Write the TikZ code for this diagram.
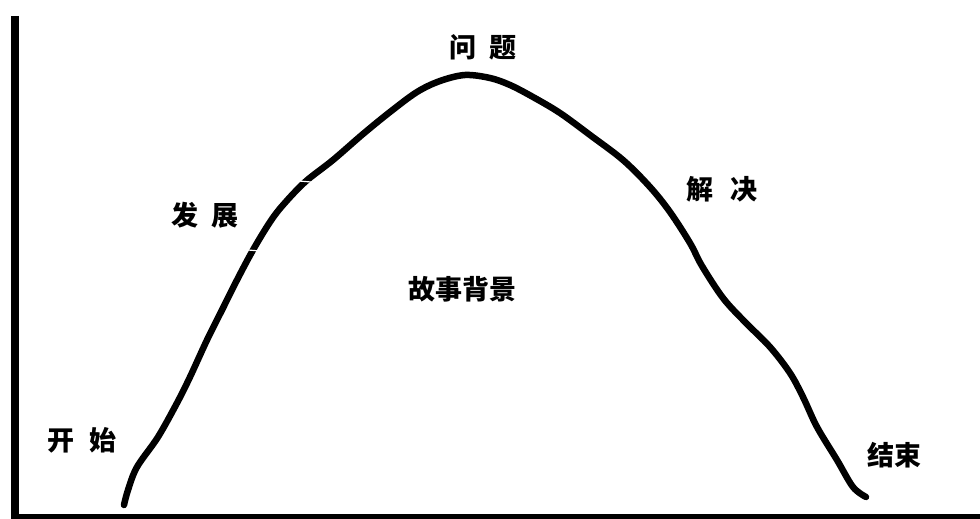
\documentclass[tikz,border=0pt]{standalone}
\usepackage{fontspec}
\newfontfamily\cjk{Noto Sans CJK SC}
\begin{document}
\begin{tikzpicture}[x=1pt,y=-1pt,
  lbl/.style={font=\cjk\bfseries\fontsize{27}{30}\selectfont, inner sep=0pt, anchor=center},
  axisline/.style={line width=8pt},
  plotcurve/.style={line width=6.5pt, line cap=round, line join=round}]
\useasboundingbox[fill=white] (0,0) rectangle (980,519);
\coordinate (vtop) at (15,16);
\coordinate (vbot) at (15,519);
\coordinate (hleft) at (11,516);
\coordinate (hright) at (980,516);
\draw[axisline] (vtop) -- (vbot);
\draw[line width=5pt] (hleft) -- (hright);
\draw[plotcurve] plot[smooth, tension=0.55] coordinates {
(124,505) (128,490) (137,467) (158,437) (177,403) (190,377) (207,340) (222,310)
(237,280) (253,250) (270,222) (283,205) (305,182) (333,160) (363,134) (390,112)
(417,92) (440,81) (465,75) (490,78) (510,85) (533,97) (560,113) (590,135)
(623,160) (650,187) (670,212) (690,243) (702,266) (723,298) (745,322) (770,347)
(790,373) (803,397) (817,427) (837,460) (853,487) (866,497)};
% small white breaks in the stroke
\draw[white, line width=1.2pt] (248,250) -- (260,251);
\draw[white, line width=1.2pt] (299,181) -- (311,182);
\node[lbl] (kaishi) at (82,440) {开\hspace{0.55em}始};
\node[lbl] (fazhan) at (205,215) {发\hspace{0.45em}展};
\node[lbl] (wenti) at (483,47) {问\hspace{0.45em}题};
\node[lbl] (jiejue) at (722,189) {解\hspace{0.6em}决};
\node[lbl] (jieshu) at (894,455) {结束};
\node[lbl] (beijing) at (462,289) {故事背景};
\end{tikzpicture}
\end{document}
